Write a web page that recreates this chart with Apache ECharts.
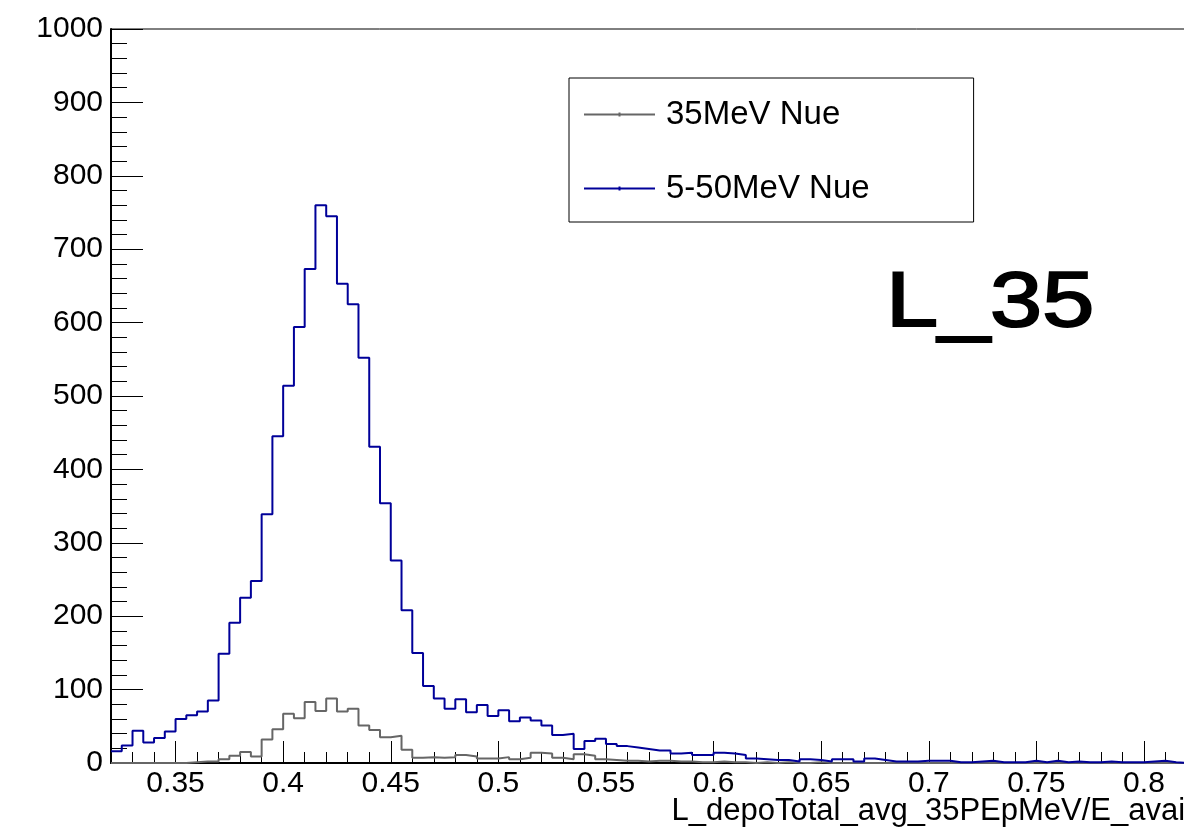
<!DOCTYPE html>
<html><head><meta charset="utf-8">
<script src="https://cdn.jsdelivr.net/npm/echarts@6/dist/echarts.min.js"></script>
<style>html,body{margin:0;padding:0;background:#fff}#c{width:1184px;height:830px}</style>
</head><body><div id="c"></div>
<script>
// Histogram binning (bin low edges start at binStart, equal width)
const binStart = 0.32;
const binWidth = 0.005;
const xMin = 0.32, xMax = 0.82;
const xTicks = [0.35, 0.4, 0.45, 0.5, 0.55, 0.6, 0.65, 0.7, 0.75, 0.8];
const seriesNames = ['35MeV Nue', '5-50MeV Nue'];
const xTitle = 'L_depoTotal_avg_35PEpMeV/E_avail';
const panelLabel = 'L_35';

// 35MeV Nue counts per bin
const nue35 = [
  0, 0, 0, 0, 0, 0, 0, 1, 2, 2,
  5, 10, 15, 9, 32, 46, 67, 61, 83, 71,
  88, 70, 74, 51, 45, 35, 37, 18, 7, 8,
  7, 8, 11, 9, 6, 6, 8, 5, 7, 14,
  13, 7, 5, 12, 10, 5, 4, 3, 3, 2,
  3, 3, 2, 2, 1, 1, 2, 1, 1, 0,
  1, 0, 1, 0, 0, 1, 0, 0, 0, 0,
  0, 0, 0, 0, 0, 0, 0, 0, 0, 0,
  0, 0, 0, 0, 0, 0, 0, 0, 0, 0,
  0, 0, 0, 0, 0, 0, 0, 0, 0, 0
];
// 5-50MeV Nue counts per bin
const nue5to50 = [
  16, 24, 44, 28, 34, 43, 60, 65, 70, 85,
  149, 191, 225, 248, 339, 445, 514, 594, 673, 760,
  745, 653, 625, 552, 431, 354, 276, 208, 150, 105,
  88, 74, 87, 69, 79, 64, 72, 57, 62, 58,
  51, 38, 40, 19, 30, 33, 26, 23, 21, 19,
  17, 17, 13, 14, 11, 11, 14, 13, 11, 6,
  5, 4, 4, 2, 5, 4, 2, 5, 5, 2,
  6, 4, 2, 2, 2, 3, 3, 3, 1, 1,
  2, 3, 1, 1, 1, 3, 1, 3, 1, 2,
  1, 1, 2, 1, 1, 1, 2, 3, 1, 0
];

function toSteps(vals) {
  const pts = vals.map((v, i) => [+(binStart + i * binWidth).toFixed(4), v]);
  pts.push([+(binStart + vals.length * binWidth).toFixed(4), vals[vals.length - 1]]);
  return pts;
}

const FONT = 'Liberation Sans, Arial, Helvetica, sans-serif';
const chart = echarts.init(document.getElementById('c'), null, {renderer: 'canvas'});
const legendIcon = 'path://M0,1H71V3H0Z M34.5,0H36.5V4H34.5Z';

chart.setOption({
  animation: false,
  backgroundColor: '#fff',
  grid: {left: 111, right: -3, top: 29, bottom: 67, show: true, borderColor: '#000', borderWidth: 1,
         backgroundColor: 'transparent', containLabel: false, outerBoundsMode: 'none'},
  xAxis: [{
    type: 'value', min: xMin, max: xMax, position: 'bottom',
    axisLine: {show: true, onZero: false, lineStyle: {color: '#000', width: 2}},
    axisTick: {show: true, inside: true, length: 22, customValues: xTicks, lineStyle: {color: '#000', width: 1}},
    axisLabel: {customValues: xTicks, margin: 6, color: '#000', fontFamily: FONT, fontSize: 30, formatter: v => String(v)},
    splitLine: {show: false}
  }, {
    type: 'value', min: xMin, max: xMax, interval: 0.01, position: 'bottom',
    axisLine: {show: false},
    axisTick: {show: true, inside: true, length: 11, lineStyle: {color: '#000', width: 1}},
    axisLabel: {show: false},
    splitLine: {show: false}
  }],
  yAxis: {
    type: 'value', min: 0, max: 1000, interval: 100,
    axisLine: {show: true, lineStyle: {color: '#000', width: 2}},
    axisTick: {show: true, inside: true, length: 32, lineStyle: {color: '#000', width: 1}},
    minorTick: {show: true, splitNumber: 5, length: 16, lineStyle: {color: '#000', width: 1}},
    axisLabel: {margin: 8, color: '#000', fontFamily: FONT, fontSize: 30, formatter: v => String(v)},
    splitLine: {show: false}, minorSplitLine: {show: false}
  },
  legend: {
    left: 569, top: 78, orient: 'vertical',
    padding: [20, 104, 17, 15], itemGap: 41, itemWidth: 71, itemHeight: 4,
    borderColor: '#000', borderWidth: 1, backgroundColor: '#fff',
    selectedMode: false,
    textStyle: {fontSize: 33, fontFamily: FONT, color: '#000', padding: [0, 0, 0, 6]},
    data: [{name: seriesNames[0], icon: legendIcon}, {name: seriesNames[1], icon: legendIcon}]
  },
  graphic: [{
    type: 'text', x: 886, y: 304, scaleX: 1.2, z: 10,
    style: {text: panelLabel, font: '78px ' + FONT, fill: '#000', stroke: '#000', lineWidth: 2,
            align: 'left', verticalAlign: 'middle'}
  }, {
    type: 'text', x: 1192, y: 811, z: 10,
    style: {text: xTitle, font: '31px ' + FONT, fill: '#000', align: 'right', verticalAlign: 'middle'}
  }],
  series: [{
    name: seriesNames[0], type: 'line', step: 'end', xAxisIndex: 0,
    data: toSteps(nue35), showSymbol: false, symbol: 'none',
    color: '#666666', itemStyle: {color: '#666666'},
    lineStyle: {color: '#666666', width: 2}, z: 3
  }, {
    name: seriesNames[1], type: 'line', step: 'end', xAxisIndex: 0,
    data: toSteps(nue5to50), showSymbol: false, symbol: 'none',
    color: '#000099', itemStyle: {color: '#000099'},
    lineStyle: {color: '#000099', width: 2}, z: 4
  }]
});
</script></body></html>
